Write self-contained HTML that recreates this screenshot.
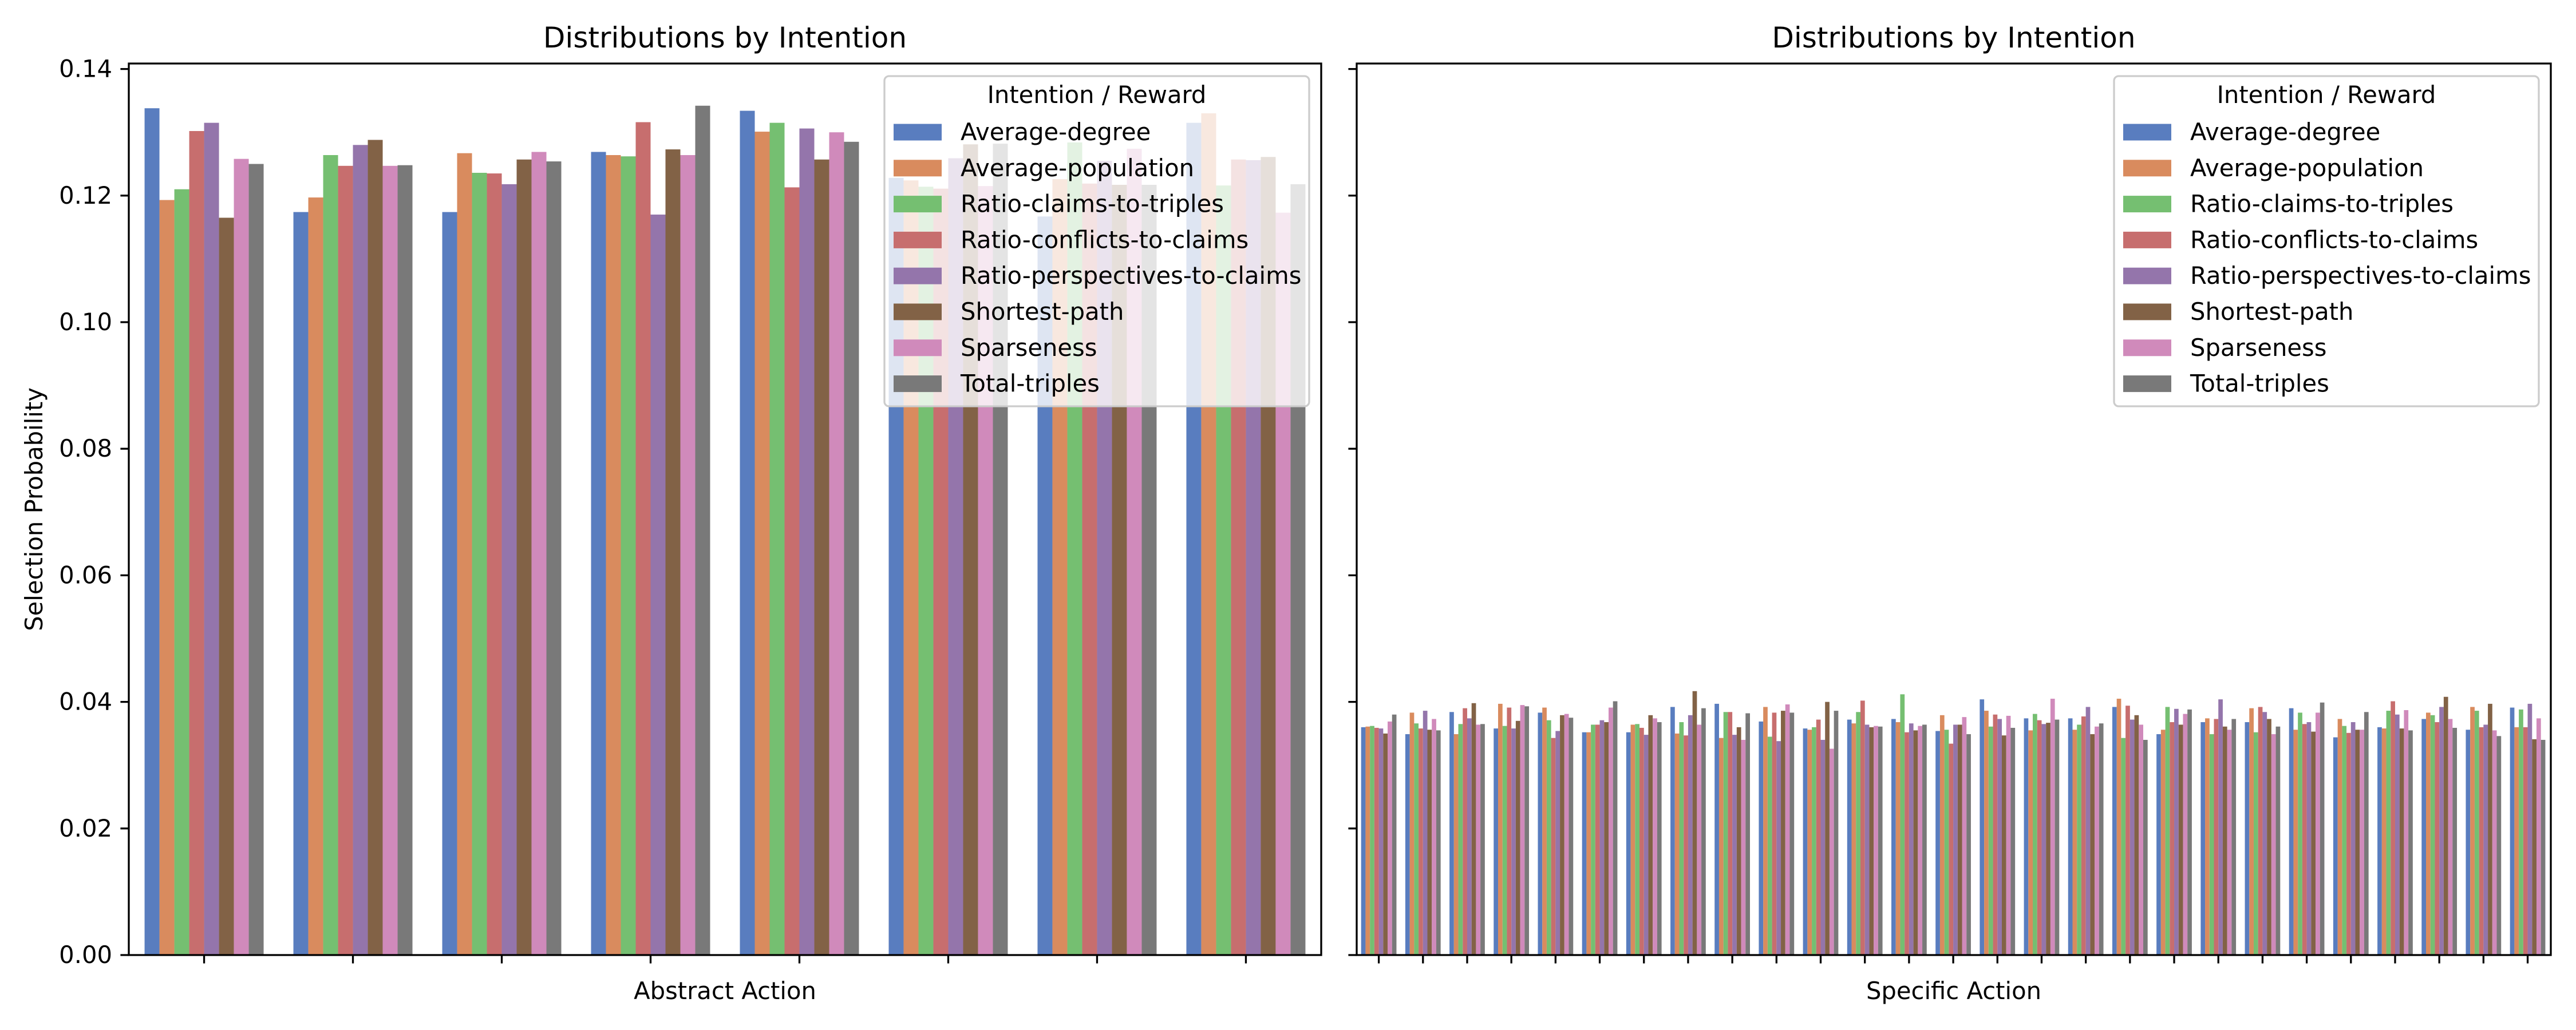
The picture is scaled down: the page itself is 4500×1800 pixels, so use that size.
<!DOCTYPE html>
<html><head><meta charset="utf-8"><style>
html,body{margin:0;padding:0;background:#fff;}
svg{display:block;font-family:"DejaVu Sans","Liberation Sans",sans-serif;}
</style></head><body>
<svg id="chart" width="4500" height="1800" xmlns="http://www.w3.org/2000/svg"></svg>
<script>
const seriesNames = ["Average-degree","Average-population","Ratio-claims-to-triples","Ratio-conflicts-to-claims","Ratio-perspectives-to-claims","Shortest-path","Sparseness","Total-triples"];
const colors = ["#597dbf","#d98b5e","#75bf71","#c76e6e","#9475ab","#826246","#d08abb","#797979"];
const yTicks = [0,0.02,0.04,0.06,0.08,0.10,0.12,0.14];
const yTickLabels = ["0.00","0.02","0.04","0.06","0.08","0.10","0.12","0.14"];
// Abstract: 8 groups x 8 series
const abstractValues = [
 [0.1338,0.1193,0.1210,0.1302,0.1315,0.1165,0.1258,0.1250],
 [0.1174,0.1197,0.1264,0.1247,0.1280,0.1288,0.1247,0.1248],
 [0.1174,0.1267,0.1236,0.1235,0.1218,0.1257,0.1269,0.1254],
 [0.1269,0.1264,0.1262,0.1316,0.1170,0.1273,0.1264,0.1342],
 [0.1334,0.1301,0.1315,0.1213,0.1306,0.1257,0.1300,0.1285],
 [0.1228,0.1224,0.1214,0.1211,0.1259,0.1281,0.1215,0.1282],
 [0.1167,0.1226,0.1284,0.1219,0.1255,0.1217,0.1274,0.1217],
 [0.1315,0.1330,0.1216,0.1257,0.1256,0.1261,0.1173,0.1218]
];
// Specific: 27 groups x 8 series
const specificValues = [
 [0.0360,0.0361,0.0362,0.0359,0.0358,0.0350,0.0369,0.0380],
 [0.0349,0.0383,0.0366,0.0358,0.0386,0.0356,0.0373,0.0355],
 [0.0384,0.0349,0.0365,0.0390,0.0374,0.0398,0.0364,0.0365],
 [0.0358,0.0397,0.0362,0.0391,0.0358,0.0370,0.0395,0.0393],
 [0.0383,0.0391,0.0371,0.0343,0.0354,0.0379,0.0381,0.0375],
 [0.0352,0.0352,0.0364,0.0364,0.0371,0.0368,0.0391,0.0401],
 [0.0352,0.0364,0.0365,0.0359,0.0348,0.0379,0.0374,0.0368],
 [0.0392,0.0350,0.0368,0.0347,0.0379,0.0417,0.0364,0.0390],
 [0.0397,0.0343,0.0384,0.0384,0.0348,0.0360,0.0340,0.0382],
 [0.0369,0.0392,0.0345,0.0383,0.0338,0.0386,0.0396,0.0383],
 [0.0358,0.0356,0.0360,0.0372,0.0340,0.0400,0.0326,0.0386],
 [0.0372,0.0366,0.0384,0.0402,0.0364,0.0360,0.0362,0.0361],
 [0.0373,0.0368,0.0412,0.0352,0.0366,0.0355,0.0362,0.0364],
 [0.0354,0.0379,0.0356,0.0334,0.0364,0.0364,0.0376,0.0349],
 [0.0404,0.0386,0.0361,0.0380,0.0373,0.0347,0.0378,0.0359],
 [0.0374,0.0355,0.0381,0.0371,0.0365,0.0367,0.0405,0.0372],
 [0.0374,0.0356,0.0364,0.0377,0.0392,0.0349,0.0361,0.0366],
 [0.0392,0.0405,0.0343,0.0394,0.0372,0.0379,0.0364,0.0340],
 [0.0349,0.0356,0.0392,0.0368,0.0389,0.0364,0.0381,0.0388],
 [0.0368,0.0374,0.0349,0.0373,0.0404,0.0361,0.0356,0.0373],
 [0.0368,0.0390,0.0352,0.0392,0.0384,0.0373,0.0349,0.0361],
 [0.0390,0.0356,0.0383,0.0365,0.0368,0.0353,0.0383,0.0399],
 [0.0344,0.0373,0.0362,0.0351,0.0368,0.0356,0.0356,0.0384],
 [0.0360,0.0358,0.0386,0.0401,0.0380,0.0358,0.0387,0.0355],
 [0.0373,0.0383,0.0379,0.0368,0.0392,0.0408,0.0373,0.0359],
 [0.0356,0.0392,0.0386,0.0360,0.0364,0.0397,0.0355,0.0346],
 [0.0391,0.0360,0.0388,0.0360,0.0397,0.0341,0.0374,0.0340]
];

const NS = "http://www.w3.org/2000/svg";
const svg = document.getElementById('chart');
function mk(tag, attrs, parent){
  const e = document.createElementNS(NS, tag);
  for (const k in attrs) e.setAttribute(k, attrs[k]);
  (parent||svg).appendChild(e);
  return e;
}
const Y0 = 1669, YTOP = 111, PX_PER_UNIT = 11060;
function yScale(v){ return Y0 - v*PX_PER_UNIT; }

function panel(opts){
  const {left,right,values,title,xlabel,showYLabels,legendRight,name} = opts;
  const g = mk('g',{});
  
  
  const n = values.length;
  const W = right-left;
  const unit = W/(n-1+2*0.5+0.012*2*(n>10?1:0)+ (n>10?0:0.012));
  const xScale = i => left + unit*(0.5+(n>10?0.0:0.006)) + i*unit;
  const bw = unit*0.1;
  // bars
  values.forEach((grp,gi)=>{
    grp.forEach((v,si)=>{
      const x = xScale(gi) - 0.4*unit + si*bw;
      const r = mk('rect',{x:x,y:yScale(v),width:bw,height:yScale(0)-yScale(v),fill:colors[si]},g);
      
      
    });
  });
  // y ticks
  yTicks.forEach((t,i)=>{
    const y = yScale(t);
    const tk = mk('line',{x1:left-14.6,x2:left,y1:y,y2:y,stroke:'#000','stroke-width':3.3},g);
    
    
    if (showYLabels){
      const tx = mk('text',{x:left-29,y:y+14,'text-anchor':'end','font-size':41.7,fill:'#000'},g);
      tx.textContent = yTickLabels[i];
      
      
    }
  });
  // x ticks
  for (let i=0;i<n;i++){
    const x = xScale(i);
    const tk = mk('line',{x1:x,x2:x,y1:Y0,y2:Y0+14.6,stroke:'#000','stroke-width':3.3},g);
    
    
  }
  // frame
  const fr = mk('rect',{x:left,y:YTOP,width:W,height:Y0-YTOP,fill:'none',stroke:'#000','stroke-width':3.3},g);
  
  
  // title
  const tt = mk('text',{x:(left+right)/2,y:83,'text-anchor':'middle','font-size':50,fill:'#000'},g);
  tt.textContent = title;
  
  
  const xl = mk('text',{x:(left+right)/2,y:1746,'text-anchor':'middle','font-size':41.7,fill:'#000'},g);
  xl.textContent = xlabel;
  
  
  // legend
  const lw = 742, lx = legendRight - lw, ly = 133, lh = 577;
  const lg = mk('g',{},g);
  
  
  mk('rect',{x:lx,y:ly,width:lw,height:lh,rx:8,ry:8,fill:'#fff','fill-opacity':0.8,stroke:'#cccccc','stroke-width':3.3},lg);
  const lt = mk('text',{x:lx+lw/2,y:180,'text-anchor':'middle','font-size':41.7,fill:'#000'},lg);
  lt.textContent = 'Intention / Reward';
  
  
  seriesNames.forEach((s,i)=>{
    const cy = 231 + i*62.8;
    const e = mk('g',{},lg);
    
    
    mk('rect',{x:lx+16,y:cy-14.5,width:84,height:29,fill:colors[i]},e);
    const t = mk('text',{x:lx+133,y:cy+14,'font-size':41.7,fill:'#000'},e);
    t.textContent = s;
  });
}

panel({left:225,right:2308,values:abstractValues,title:'Distributions by Intention',xlabel:'Abstract Action',showYLabels:true,legendRight:2287,name:'abstract-panel'});
panel({left:2370,right:4456,values:specificValues,title:'Distributions by Intention',xlabel:'Specific Action',showYLabels:false,legendRight:4435,name:'specific-panel'});

const yl = mk('text',{x:0,y:0,'text-anchor':'middle','font-size':41.7,fill:'#000',transform:'translate(74,890) rotate(-90)'});
yl.textContent = 'Selection Probability';


</script>
</body></html>
